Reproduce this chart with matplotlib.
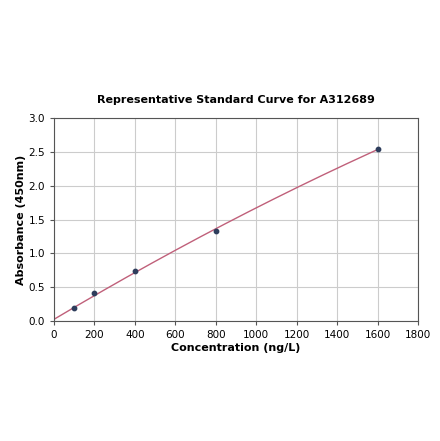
import numpy as np
import matplotlib
matplotlib.use("Agg")
import matplotlib.pyplot as plt

# standard points
concentration = [0, 100, 200, 400, 800, 1600]
absorbance = [0.0, 0.185, 0.42, 0.74, 1.33, 2.54]

x_ticks = [0, 200, 400, 600, 800, 1000, 1200, 1400, 1600, 1800]
y_ticks = [0.0, 0.5, 1.0, 1.5, 2.0, 2.5, 3.0]

fig = plt.figure(figsize=(4.4, 4.41), dpi=100)
ax = fig.add_axes([0.1227, 0.2721, 0.8273, 0.4603])

# quadratic fit through the standards
coef = np.polyfit(concentration, absorbance, 2)
xs = np.linspace(0, max(concentration), 200)
ax.plot(xs, np.polyval(coef, xs), color="#c0607a", linewidth=1.0, zorder=2)
ax.scatter(concentration[1:], absorbance[1:], s=10, color="#2e3d5c", zorder=3)

ax.set_xlim(0, 1800)
ax.set_ylim(0, 3.0)
ax.set_xticks(x_ticks)
ax.set_yticks(y_ticks)
ax.set_yticklabels([f"{v:.1f}" for v in y_ticks])
ax.tick_params(labelsize=7.5, length=3, color="#555555")
ax.grid(True, color="#cccccc", linewidth=0.8)
ax.set_axisbelow(True)
for s in ax.spines.values():
    s.set_color("#555555")

ax.set_xlabel("Concentration (ng/L)", fontsize=8, fontweight="bold", labelpad=2)
ax.set_ylabel("Absorbance (450nm)", fontsize=8, fontweight="bold", labelpad=2)
ax.set_title("Representative Standard Curve for A312689", fontsize=8,
             fontweight="bold", pad=11)

fig.savefig("out.png", dpi=100)
